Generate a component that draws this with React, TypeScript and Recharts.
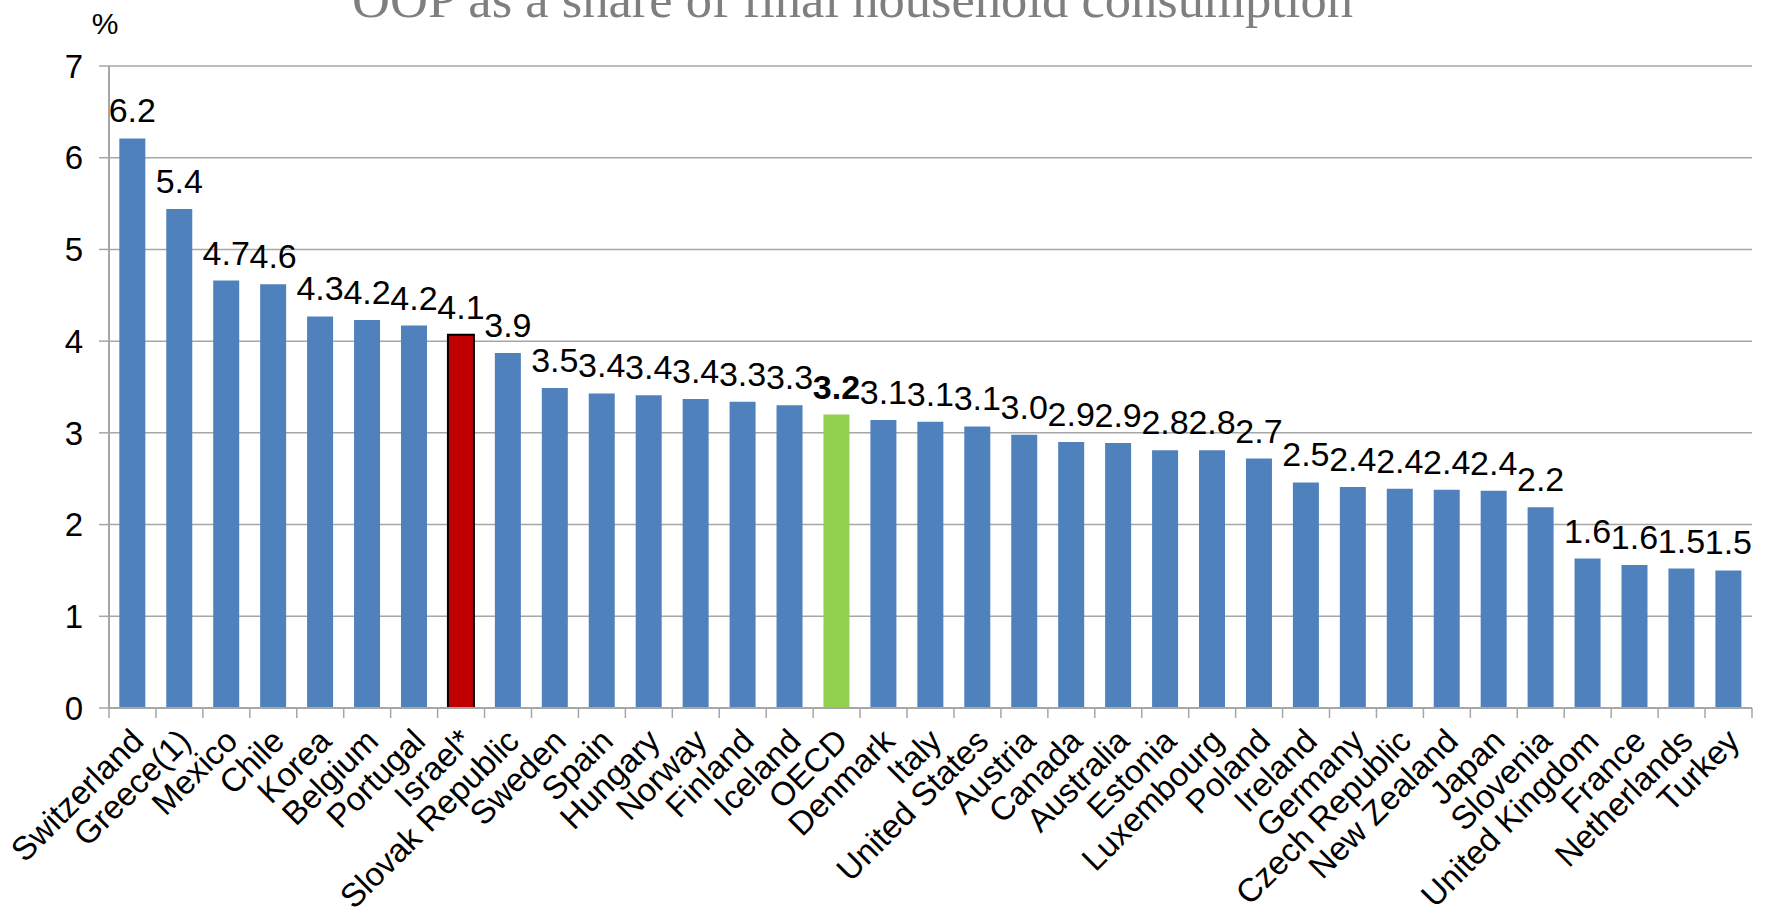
import React from "react";
import { Bar, BarChart, CartesianGrid, Cell, LabelList, XAxis, YAxis } from "recharts";

const countries = [
  "Switzerland", "Greece(1)", "Mexico", "Chile", "Korea", "Belgium", "Portugal", "Israel*",
  "Slovak Republic", "Sweden", "Spain", "Hungary", "Norway", "Finland", "Iceland", "OECD",
  "Denmark", "Italy", "United States", "Austria", "Canada", "Australia", "Estonia", "Luxembourg",
  "Poland", "Ireland", "Germany", "Czech Republic", "New Zealand", "Japan", "Slovenia",
  "United Kingdom", "France", "Netherlands", "Turkey",
];

const oopShare = [
  6.21, 5.44, 4.66, 4.62, 4.27, 4.23, 4.17, 4.07,
  3.87, 3.49, 3.43, 3.41, 3.37, 3.34, 3.3, 3.2,
  3.14, 3.12, 3.07, 2.98, 2.9, 2.89, 2.81, 2.81,
  2.72, 2.46, 2.41, 2.39, 2.38, 2.37, 2.19,
  1.63, 1.56, 1.52, 1.5,
];

const yTicks = [0, 1, 2, 3, 4, 5, 6, 7];

const data = countries.map((name, i) => ({ name, value: oopShare[i] }));

const W = 1769;
const H = 908;
const LEFT = 109;
const RIGHT = 17;
const band = (W - LEFT - RIGHT) / countries.length;

const GRID = "#A6A6A6";
const SANS = "'Liberation Sans', Arial, sans-serif";

function barColor(name: string) {
  if (name === "Israel*") return "#C00000";
  if (name === "OECD") return "#92D050";
  return "#4F81BD";
}

function CountryTick(props: any) {
  const { x, y, payload, index } = props;
  const left = x - band / 2;
  return (
    <g>
      <line x1={left} y1={y} x2={left} y2={y + 10} stroke={GRID} strokeWidth={1.5} />
      {index === countries.length - 1 && (
        <line x1={x + band / 2} y1={y} x2={x + band / 2} y2={y + 10} stroke={GRID} strokeWidth={1.5} />
      )}
      <g transform={`translate(${x + 13},${y + 35})`}>
        <text x={0} y={0} textAnchor="end" transform="rotate(-45)" fontSize={33} fontFamily={SANS} fill="#000">
          {payload.value}
        </text>
      </g>
    </g>
  );
}

function ValueLabel(props: any) {
  const { x, y, width, value, index } = props;
  const bold = countries[index] === "OECD";
  return (
    <text
      x={x + width / 2}
      y={y - 16}
      textAnchor="middle"
      fontSize={34}
      fontFamily={SANS}
      fontWeight={bold ? "bold" : "normal"}
      fill="#000"
    >
      {Number(value).toFixed(1)}
    </text>
  );
}

export default function App() {
  return (
    <div style={{ position: "absolute", left: 0, top: 0, width: W, height: H, background: "#fff" }}>
      <svg width={W} height={H} style={{ position: "absolute", left: 0, top: 0 }}>
        <text
          x={352}
          y={17}
          fontSize={52}
          fontFamily="'Liberation Serif', 'Times New Roman', serif"
          fill="#7F7F7F"
          textLength={1001}
          lengthAdjust="spacingAndGlyphs"
        >
          OOP as a share of final household consumption
        </text>
        <text x={105} y={34} textAnchor="middle" fontSize={30} fontFamily={SANS} fill="#000">
          %
        </text>
      </svg>
      <div style={{ position: "absolute", left: 0, top: 0 }}>
        <BarChart
          width={W}
          height={H}
          data={data}
          margin={{ top: 66, right: RIGHT, left: 0, bottom: 0 }}
          barCategoryGap="22%"
        >
          <CartesianGrid horizontal vertical={false} stroke={GRID} strokeWidth={1.5} />
          <XAxis
            dataKey="name"
            interval={0}
            height={200}
            tickSize={0}
            tickMargin={0}
            tickLine={false}
            axisLine={{ stroke: GRID, strokeWidth: 2 }}
            tick={<CountryTick />}
          />
          <YAxis
            domain={[0, 7]}
            ticks={yTicks}
            width={LEFT}
            tickSize={10}
            tickMargin={16}
            tick={{ fontSize: 33, fontFamily: SANS, fill: "#000" }}
            tickLine={{ stroke: GRID, strokeWidth: 1.5 }}
            axisLine={{ stroke: GRID, strokeWidth: 2 }}
          />
          <YAxis
            yAxisId="right"
            orientation="right"
            domain={[0, 7]}
            width={0}
            tick={false}
            tickLine={false}
            axisLine={{ stroke: GRID, strokeWidth: 2 }}
          />
          <Bar dataKey="value" isAnimationActive={false}>
            {data.map((d) => (
              <Cell
                key={d.name}
                fill={barColor(d.name)}
                stroke={d.name === "Israel*" ? "#000" : "none"}
                strokeWidth={d.name === "Israel*" ? 2 : 0}
              />
            ))}
            <LabelList dataKey="value" content={<ValueLabel />} />
          </Bar>
        </BarChart>
      </div>
    </div>
  );
}
